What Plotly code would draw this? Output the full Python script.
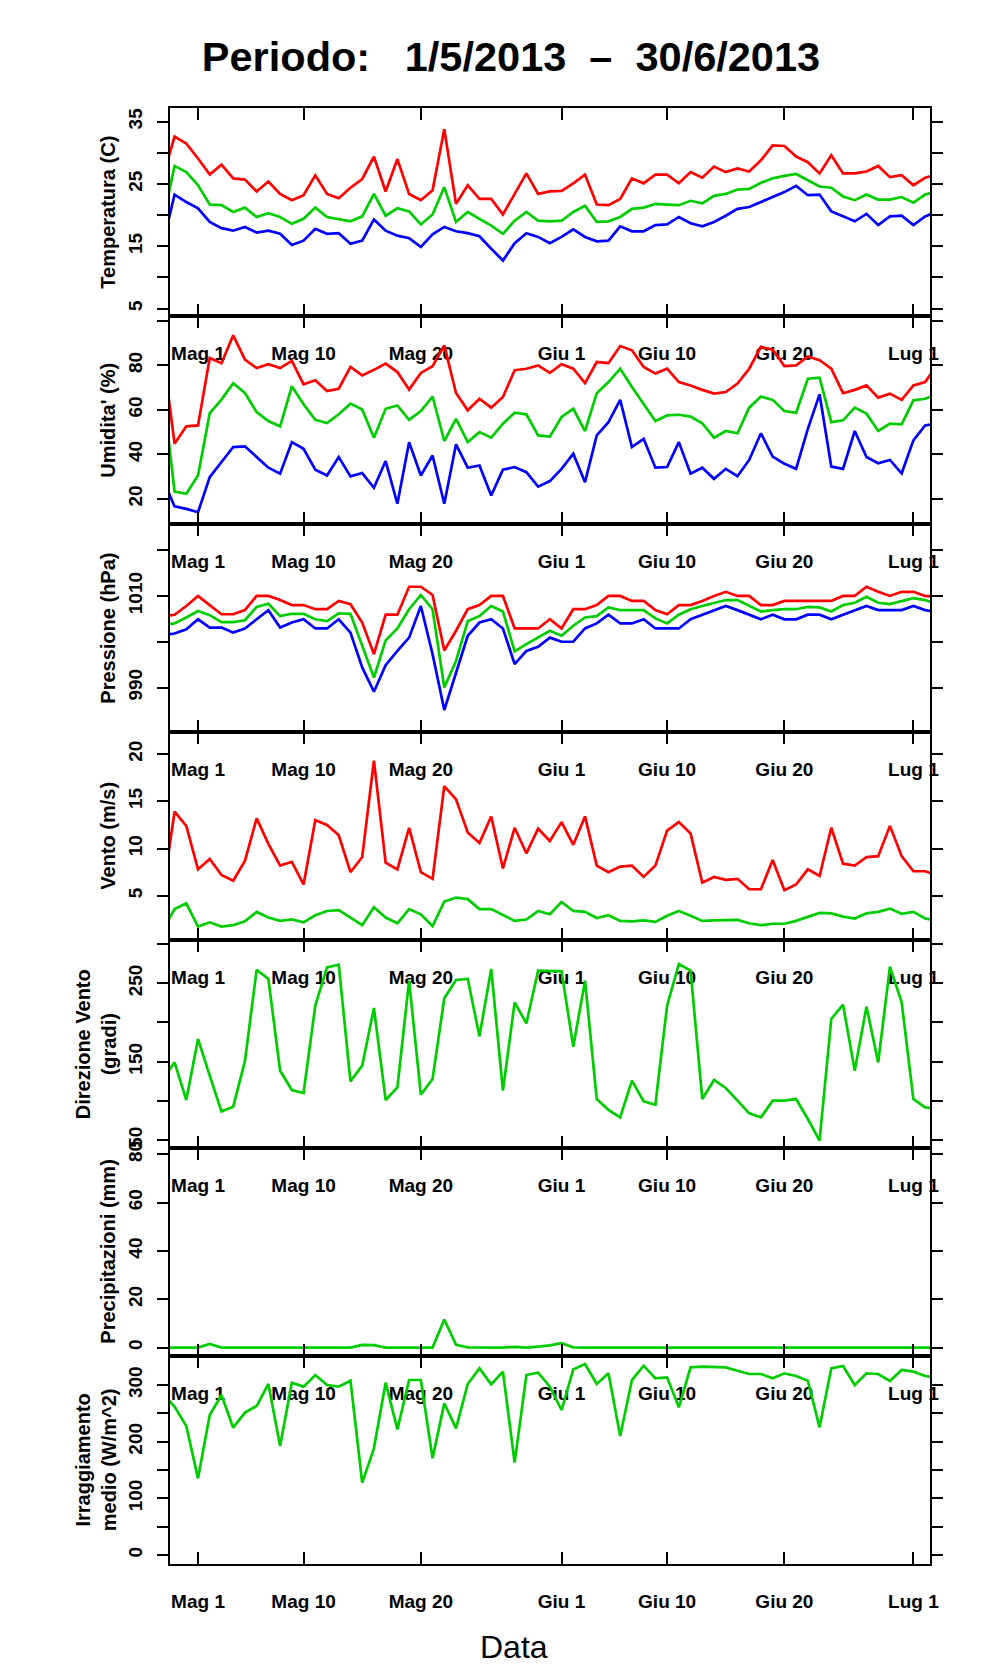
import pandas as pd
import plotly.graph_objects as go
from plotly.subplots import make_subplots

# daily values, 28 Apr 2013 .. 3 Jul 2013 (first/last day fall outside the drawn range)
days = pd.date_range("2013-04-28", "2013-07-03", freq="D")

temp_max = [26.1, 32.6, 31.5,
            29.1, 26.5, 28.1, 25.9, 25.7, 23.8, 25.4, 23.4, 22.4, 23.2, 26.4, 23.4, 22.7, 24.4, 25.8, 29.4,
            23.8, 29.0, 23.4, 22.4, 24.0, 33.8, 21.8, 24.8, 22.6, 22.6, 20.1, 23.4, 26.7, 23.4, 23.8,
            23.9, 25.1, 26.5, 21.7, 21.6, 22.6, 25.9, 25.1, 26.5, 26.5, 25.1, 26.9, 26.0, 27.8, 26.9,
            27.5, 27.0, 28.8, 31.2, 31.1, 29.4, 28.5, 26.7, 29.6, 26.7, 26.7, 27.0, 27.9, 26.1, 26.4,
            24.8, 26.0, 26.5]
temp_mean = [19.1, 27.9, 26.9,
             24.8, 21.7, 21.6, 20.5, 21.2, 19.7, 20.3, 19.7, 18.6, 19.4, 21.2, 19.7, 19.4, 19.0, 19.8, 23.4,
             19.9, 21.1, 20.6, 18.5, 20.1, 24.5, 18.9, 20.5, 19.4, 18.3, 17.0, 19.1, 20.5, 19.1, 19.0,
             19.1, 20.5, 21.5, 18.9, 19.0, 19.7, 21.0, 21.2, 21.8, 21.7, 21.6, 22.3, 21.9, 23.1, 23.4,
             24.1, 24.2, 25.2, 25.9, 26.3, 26.6, 25.6, 24.6, 24.4, 23.0, 22.4, 23.3, 22.5, 22.5, 22.9,
             22.0, 23.3, 23.8]
temp_min = [15.3, 23.3, 22.1,
            21.1, 18.9, 17.9, 17.5, 18.1, 17.2, 17.5, 17.0, 15.2, 15.9, 17.8, 17.0, 17.1, 15.4, 15.9, 19.3,
            17.5, 16.7, 16.3, 14.9, 16.9, 18.1, 17.4, 17.1, 16.6, 14.6, 12.7, 15.5, 17.1, 16.5, 15.5,
            16.5, 17.7, 16.5, 15.8, 15.9, 18.2, 17.4, 17.4, 18.4, 18.5, 19.7, 18.7, 18.2, 18.9, 19.9,
            21.0, 21.3, 22.1, 22.9, 23.7, 24.7, 23.2, 23.3, 20.6, 19.8, 19.0, 20.2, 18.4, 19.8, 19.9,
            18.4, 19.8, 20.5]

hum_max = [86.0, 44.8, 52.6,
           53.0, 83.3, 81.0, 93.5, 82.6, 78.8, 80.5, 78.8, 82.0, 71.5, 73.3, 68.5, 69.5, 79.3, 75.5, 78.0,
           80.8, 77.0, 69.1, 76.6, 79.6, 89.0, 67.6, 59.8, 65.0, 61.0, 65.8, 77.8, 78.5, 80.0, 76.6,
           80.5, 78.5, 72.0, 81.5, 81.0, 88.7, 86.8, 79.3, 76.3, 78.5, 72.5, 71.0, 69.0, 67.3, 68.0,
           71.8, 78.5, 88.3, 87.0, 79.7, 80.0, 84.0, 82.3, 78.5, 67.5, 69.0, 71.0, 65.5, 67.3, 64.5,
           71.0, 72.5, 80.0]
hum_mean = [69.3, 23.3, 22.3,
            30.5, 58.5, 64.6, 72.0, 67.6, 59.0, 55.0, 52.6, 70.6, 62.5, 55.5, 54.1, 58.0, 62.8, 60.2, 47.5,
            60.5, 62.0, 55.5, 59.5, 66.0, 46.0, 56.0, 45.5, 50.0, 47.5, 53.8, 58.7, 58.0, 48.5, 48.0,
            56.8, 60.5, 50.5, 67.5, 72.5, 78.5, 70.3, 62.8, 55.0, 57.5, 57.8, 57.0, 54.0, 47.5, 50.5,
            49.5, 61.0, 66.0, 64.5, 59.5, 58.7, 74.0, 74.5, 54.5, 55.3, 61.0, 58.3, 50.5, 53.8, 53.5,
            64.3, 65.0, 67.0]
hum_min = [28.9, 16.6, 15.5,
           14.0, 29.8, 36.5, 43.3, 43.6, 38.8, 34.0, 31.3, 45.5, 42.5, 33.1, 30.5, 38.8, 30.1, 31.6, 25.0,
           37.0, 17.8, 45.5, 30.5, 39.5, 17.8, 44.5, 34.0, 35.0, 21.5, 33.1, 34.3, 32.0, 25.5, 28.0,
           33.5, 40.3, 27.5, 48.5, 54.5, 64.5, 43.3, 47.0, 34.0, 34.3, 45.5, 31.3, 34.0, 29.0, 33.5,
           30.2, 37.5, 49.5, 39.0, 35.8, 33.5, 51.5, 67.0, 34.5, 33.5, 50.5, 38.8, 36.0, 37.5, 31.5,
           46.3, 53.0, 54.0]

pres_max = [1005.5, 1005.9, 1007.8,
            1010.0, 1008.0, 1006.0, 1006.0, 1006.9, 1010.0, 1010.0, 1009.1, 1008.0, 1008.0, 1007.1,
            1007.1, 1008.9, 1008.2, 1004.2, 997.3, 1005.9, 1005.9, 1012.0, 1012.0, 1010.2, 998.1,
            1002.4, 1007.1, 1008.0, 1010.0, 1010.0, 1002.9, 1002.9, 1002.9, 1004.9,
            1002.9, 1007.1, 1007.1, 1008.0, 1010.0, 1010.0, 1008.9, 1008.9, 1006.9, 1006.0, 1008.0,
            1008.0, 1008.9, 1010.0, 1010.9, 1010.0, 1010.0, 1008.0, 1008.0, 1008.9, 1008.9, 1008.9,
            1008.9, 1008.9, 1010.0, 1010.0, 1012.0, 1010.9, 1010.0, 1010.9,
            1010.9, 1010.0, 1009.8]
pres_mean = [1003.8, 1004.0, 1005.3,
             1006.7, 1005.8, 1004.3, 1004.3, 1004.7, 1007.6, 1008.3, 1005.6, 1006.1, 1006.1, 1004.9,
             1004.5, 1006.2, 1006.1, 999.1, 992.2, 1000.3, 1002.9, 1007.1, 1010.2, 1007.1, 990.0,
             995.8, 1004.5, 1005.6, 1007.8, 1006.6, 997.9, 999.5, 1000.9, 1002.4,
             1001.3, 1003.5, 1005.3, 1005.6, 1007.5, 1006.9, 1006.9, 1006.9, 1005.1, 1004.0, 1005.9,
             1007.1, 1007.8, 1008.5, 1009.1, 1009.1, 1007.8, 1006.6, 1006.9, 1007.1, 1007.1, 1007.6,
             1007.5, 1006.6, 1008.0, 1008.5, 1009.8, 1008.5, 1008.2, 1008.9,
             1009.5, 1009.1, 1008.3]
pres_min = [1001.5, 1001.8, 1002.7,
            1004.9, 1003.1, 1003.1, 1002.0, 1002.9, 1004.9, 1006.9, 1003.1, 1004.2, 1004.9, 1002.9,
            1002.9, 1004.9, 1002.0, 994.4, 989.1, 994.9, 998.0, 1000.9, 1007.8, 997.3, 985.1,
            993.3, 1001.3, 1004.2, 1004.9, 1002.9, 995.1, 998.0, 998.9, 1000.9,
            1000.0, 1000.0, 1002.9, 1004.0, 1005.9, 1004.0, 1004.0, 1004.9, 1002.9, 1002.9, 1002.9,
            1004.9, 1005.9, 1006.9, 1007.8, 1006.9, 1005.9, 1004.9, 1005.9, 1004.9, 1004.9, 1005.9,
            1005.9, 1004.9, 1005.9, 1006.9, 1007.8, 1006.9, 1006.9, 1006.9,
            1007.8, 1006.9, 1006.5]

wind_max = [5.4, 13.9, 12.4,
            7.8, 8.9, 7.2, 6.6, 8.7, 13.2, 10.5, 8.2, 8.6, 6.2, 13.0, 12.5, 11.4, 7.5, 9.1, 19.3,
            8.5, 7.8, 12.2, 7.5, 6.8, 16.6, 15.2, 11.7, 10.6, 13.4, 7.9, 12.2, 9.5, 12.1, 10.8,
            12.8, 10.4, 13.4, 8.2, 7.5, 8.1, 8.2, 7.0, 8.2, 11.9, 12.8, 11.6, 6.4, 7.0, 6.7,
            6.8, 5.7, 5.7, 8.8, 5.6, 6.2, 7.8, 7.1, 12.2, 8.4, 8.2, 9.1, 9.2, 12.4, 9.2,
            7.6, 7.6, 7.2]
wind_mean = [1.4, 3.6, 4.2,
             1.75, 2.2, 1.75, 1.9, 2.3, 3.3, 2.7, 2.35, 2.5, 2.2, 2.95, 3.4, 3.5, 2.7, 1.9, 3.8,
             2.7, 2.1, 3.6, 3.05, 1.8, 4.4, 4.8, 4.65, 3.6, 3.6, 2.95, 2.35, 2.5, 3.4, 3.05,
             4.35, 3.4, 3.3, 2.65, 2.95, 2.35, 2.3, 2.4, 2.25, 2.9, 3.4, 2.9, 2.35, 2.4, 2.45,
             2.45, 2.1, 1.9, 2.05, 2.05, 2.35, 2.8, 3.2, 3.15, 2.8, 2.6, 3.15, 3.3, 3.65, 3.1,
             3.3, 2.6, 2.4]

wind_dir = [127.9, 149.1, 101.1,
            178.9, 132.1, 86.6, 92.6, 150.4, 267.4, 255.5, 138.5, 113.8, 110.0, 221.5, 270.4, 273.8,
            124.9, 144.9, 218.5, 101.1, 117.2, 253.4, 107.9, 127.9, 230.9, 254.3, 255.5, 182.3, 268.3,
            113.0, 225.7, 198.9, 266.2, 266.2,
            265.3, 169.1, 253.4, 102.3, 88.3, 78.9, 125.7, 99.4, 95.1, 221.5, 274.7, 266.2, 102.3,
            126.6, 116.4, 100.2, 84.0, 78.9, 100.2, 100.2, 102.3, 76.8, 49.1, 204.5, 222.8, 138.5,
            220.2, 149.1, 271.3, 225.7,
            102.3, 91.7, 90.0]

rain = [0.0, 0.0, 0.1,
        0.0, 1.5, 0.0, 0.0, 0.0, 0.0, 0.0, 0.0, 0.0, 0.0, 0.0, 0.0, 0.0, 0.0, 1.1, 1.0,
        0.0, 0.0, 0.0, 0.0, 0.0, 11.6, 1.1, 0.1, 0.0, 0.0, 0.0, 0.3, 0.0, 0.4, 0.9,
        1.8, 0.1, 0.0, 0.0, 0.0, 0.0, 0.0, 0.0, 0.0, 0.0, 0.0, 0.0, 0.0, 0.0, 0.0,
        0.0, 0.0, 0.0, 0.0, 0.0, 0.0, 0.0, 0.0, 0.0, 0.0, 0.0, 0.0, 0.0, 0.0, 0.0,
        0.0, 0.0, 0.0]

irr = [284.0, 261.8, 227.6,
       135.3, 247.1, 282.4, 224.7, 251.2, 262.9, 301.8, 192.4, 304.1, 297.1, 317.6, 300.0, 297.1,
       307.6, 127.6, 188.2, 304.1, 221.8, 308.8, 308.8, 170.6, 267.6, 223.5, 301.8, 329.4, 301.2,
       323.5, 162.9, 317.6, 321.8, 297.1,
       255.9, 327.6, 337.1, 301.8, 320.6, 210.0, 308.8, 334.1, 311.8, 313.5, 260.6, 331.2, 332.4,
       332.4, 331.2, 325.3, 319.4, 319.4, 311.8, 320.6, 315.9, 307.6, 225.3, 329.4, 333.5, 300.0,
       320.6, 319.4, 307.1, 326.5,
       323.5, 315.9, 313.0]

date_ticks = ["2013-05-01", "2013-05-10", "2013-05-20", "2013-06-01", "2013-06-10", "2013-06-20", "2013-07-01"]
date_labels = ["Mag 1", "Mag 10", "Mag 20", "Giu 1", "Giu 10", "Giu 20", "Lug 1"]

RED, GREEN, BLUE = "#FF0000", "#00CD00", "#0000FF"
FONT = "Liberation Sans"

# (y title, title x in paper coords, traces, y range, tick values, tick labels)
panels = [
    ("Temperatura (C)", -0.082, [(temp_max, RED), (temp_mean, GREEN), (temp_min, BLUE)],
     [3.8, 37.2], [5, 10, 15, 20, 25, 30, 35], ["5", "", "15", "", "25", "", "35"]),
    ("Umidita' (%)", -0.082, [(hum_max, RED), (hum_mean, GREEN), (hum_min, BLUE)],
     [8.7, 102.2], [20, 40, 60, 80, 100], ["20", "40", "60", "80", ""]),
    ("Pressione (hPa)", -0.082, [(pres_max, RED), (pres_mean, GREEN), (pres_min, BLUE)],
     [980.3, 1025.7], [990, 1000, 1010, 1020], ["990", "", "1010", ""]),
    ("Vento (m/s)", -0.082, [(wind_max, RED), (wind_mean, GREEN)],
     [0.33, 22.33], [5, 10, 15, 20], ["5", "10", "15", "20"]),
    ("Direzione Vento<br>(gradi)", -0.097, [(wind_dir, GREEN)],
     [39.8, 305.3], [50, 100, 150, 200, 250, 300], ["50", "", "150", "", "250", ""]),
    ("Precipitazioni (mm)", -0.082, [(rain, GREEN)],
     [-3.5, 82.6], [0, 20, 40, 60, 80], ["0", "20", "40", "60", "80"]),
    ("Irraggiamento<br>medio (W/m^2)", -0.097, [(irr, GREEN)],
     [-15.9, 351.2], [0, 50, 100, 150, 200, 250, 300], ["0", "", "100", "", "200", "", "300"]),
]

fig = make_subplots(rows=len(panels), cols=1, vertical_spacing=0)

for i, (ytitle, tx, traces, yrange, tvals, ttext) in enumerate(panels, start=1):
    for values, color in traces:
        fig.add_trace(go.Scatter(x=days, y=values, mode="lines",
                                 line=dict(color=color, width=2.7), showlegend=False),
                      row=i, col=1)
    fig.update_yaxes(range=yrange, tickvals=tvals, ticktext=ttext, row=i, col=1)
    yref = "y domain" if i == 1 else f"y{i} domain"
    fig.add_annotation(text=ytitle, xref="paper", yref=yref, x=tx, y=0.5,
                       xanchor="center", yanchor="middle", textangle=-90, showarrow=False,
                       font=dict(family=FONT, size=20, color="black", weight="bold"))

fig.update_xaxes(type="date", range=["2013-04-28 14:40", "2013-07-02 10:00"],
                 tickvals=date_ticks, ticktext=date_labels,
                 ticks="inside", ticklen=12, tickwidth=1.5, tickcolor="black",
                 ticklabelstandoff=19,
                 showline=True, linecolor="black", linewidth=1.6, mirror="ticks",
                 showgrid=False, zeroline=False,
                 tickfont=dict(family=FONT, size=19, color="black", weight="bold"))
fig.update_yaxes(ticks="outside", ticklen=11, tickwidth=1.5, tickcolor="black",
                 tickangle=-90, ticklabelstandoff=8,
                 showline=True, linecolor="black", linewidth=1.6, mirror="ticks",
                 showgrid=False, zeroline=False,
                 tickfont=dict(family=FONT, size=19, color="black", weight="bold"))

fig.add_annotation(text="Data", xref="paper", yref="paper", x=0.452, y=-0.0572,
                   xanchor="center", yanchor="middle", showarrow=False,
                   font=dict(family=FONT, size=32, color="black"))

nb = "\u00a0"
fig.update_layout(
    width=996, height=1680,
    margin=dict(l=162, r=74, t=100, b=124),
    paper_bgcolor="white", plot_bgcolor="white",
    title=dict(text=f"Periodo:{nb * 3}1/5/2013{nb * 2}\u2013{nb * 2}30/6/2013",
               x=0.505, xref="container", xanchor="center",
               y=1 - 48 / 1680, yref="container", yanchor="middle",
               font=dict(family=FONT, size=41.5, color="black", weight="bold")),
)

fig.write_html("out.html")
